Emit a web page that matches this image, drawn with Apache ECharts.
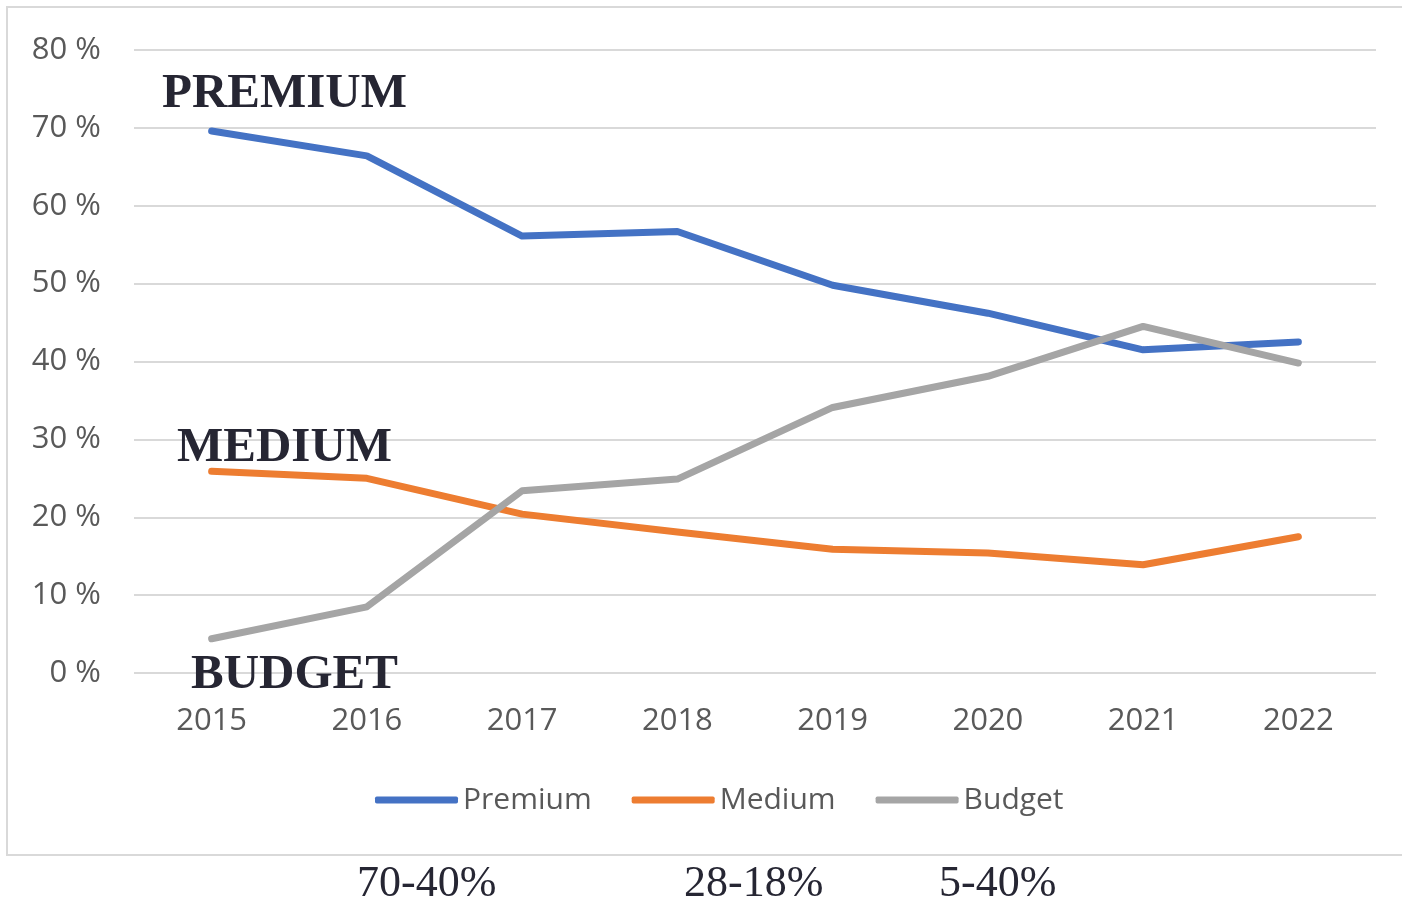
<!DOCTYPE html>
<html>
<head>
<meta charset="utf-8">
<script src="https://cdn.jsdelivr.net/npm/echarts@6/dist/echarts.min.js"></script>
<style>
  html, body { margin: 0; padding: 0; background: #fff; }
  #main { width: 1402px; height: 901px; }
</style>
</head>
<body>
<div id="main"></div>
<script>
// data
const years = ['2015', '2016', '2017', '2018', '2019', '2020', '2021', '2022']
const premium = [69.6, 66.4, 56.1, 56.7, 49.8, 46.2, 41.5, 42.5]
const medium = [25.9, 25.0, 20.4, 18.1, 15.9, 15.4, 13.9, 17.5]
const budget = [4.4, 8.5, 23.4, 24.9, 34.1, 38.1, 44.5, 39.8]
const ranges = ['70-40%', '28-18%', '5-40%']

const chart = echarts.init(document.getElementById('main'))

const sans = '"Open Sans", "Noto Sans", sans-serif'
const serif = '"Liberation Serif", "DejaVu Serif", serif'

function line(name, data, color) {
    return {
        name: name,
        type: 'line',
        data: data,
        showSymbol: false,
        symbol: 'none',
        lineStyle: { width: 7, color: color, cap: 'round', join: 'round' },
        itemStyle: { color: color }
    }
}

const option = {
    animation: false,
    grid: { left: 134, right: 26, top: 50, bottom: 228 },
    legend: {
        bottom: 81,
        left: 370,
        icon: 'roundRect',
        itemWidth: 83,
        itemHeight: 7,
        itemGap: 40,
        textStyle: { fontFamily: sans, fontSize: 30, color: '#595959', padding: [0, 0, 0, 0] },
        data: ['Premium', 'Medium', 'Budget']
    },
    xAxis: {
        type: 'category',
        data: years,
        boundaryGap: true,
        axisLine: { show: false },
        axisTick: { show: false },
        axisLabel: { fontFamily: sans, fontSize: 31, color: '#595959', margin: 33 }
    },
    yAxis: {
        type: 'value',
        min: 0,
        max: 80,
        interval: 10,
        axisLine: { show: false },
        axisTick: { show: false },
        axisLabel: { formatter: '{value} %', fontFamily: sans, fontSize: 31, color: '#595959', margin: 33 },
        splitLine: { lineStyle: { color: '#d9d9d9', width: 2 } }
    },
    series: [
        line('Premium', premium, '#4472C4'),
        line('Medium', medium, '#ED7D31'),
        line('Budget', budget, '#A5A5A5')
    ],
    graphic: [
        { type: 'rect', shape: { x: 7, y: 7, width: 1400, height: 848 }, style: { fill: 'none', stroke: '#d9d9d9', lineWidth: 2 }, z: -1 },
        { type: 'text', left: 162, top: 70, z: 10, style: { text: 'PREMIUM', font: 'bold 49px ' + serif, fill: '#262633' } },
        { type: 'text', left: 177, top: 424, z: 10, style: { text: 'MEDIUM', font: 'bold 49px ' + serif, fill: '#262633' } },
        { type: 'text', left: 191, top: 651, z: 10, style: { text: 'BUDGET', font: 'bold 49px ' + serif, fill: '#262633' } },
        { type: 'text', left: 357, top: 862, style: { text: ranges[0], font: '44px ' + serif, fill: '#262633' } },
        { type: 'text', left: 684, top: 862, style: { text: ranges[1], font: '44px ' + serif, fill: '#262633' } },
        { type: 'text', left: 939, top: 862, style: { text: ranges[2], font: '44px ' + serif, fill: '#262633' } }
    ]
}

chart.setOption(option)
</script>
</body>
</html>
